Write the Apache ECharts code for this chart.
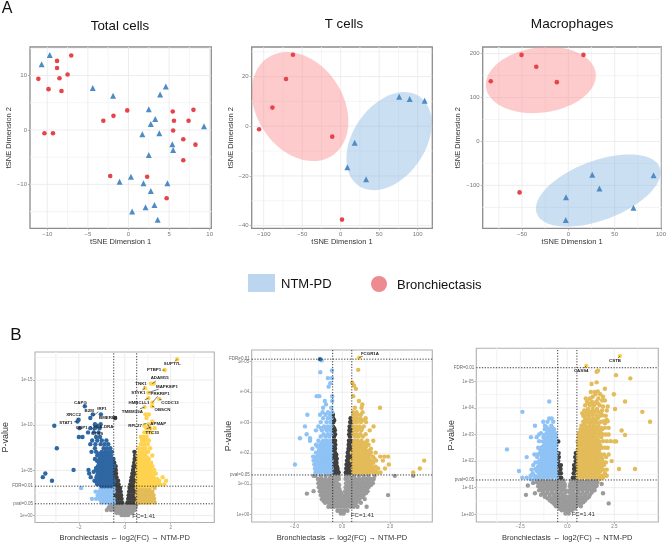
<!DOCTYPE html>
<html><head><meta charset="utf-8">
<script src="https://cdn.jsdelivr.net/npm/echarts@6/dist/echarts.min.js"></script>
<style>html,body{margin:0;padding:0;background:#fff}#c{width:669px;height:543px}</style></head>
<body><div id="c"></div>
<script>
const FONT='"Liberation Sans",Arial,sans-serif';
// ---- Panel A data
const totalTri=[[-9.7,13.8],[-10.7,12.1],[-4.4,7.7],[-1.9,6.3],[4.6,8],[3.9,6.5],[2.5,3.8],[3.3,2],[2.75,1.1],[1.7,-.8],[3.8,-.6],[9.3,.7],[5.4,-2.6],[5.5,-3.7],[2.5,-4.6],[-1.1,-9.5],[.3,-8.6],[1.85,-9.8],[4.8,-9.8],[2.75,-11.2],[3.2,-13.8],[2.1,-14.2],[.45,-15],[3.6,-16.5]];
const totalCir=[[-7.05,13.7],[-8.8,12.7],[-8.8,11.4],[-7.5,10.2],[-11.1,9.4],[-8.5,9.5],[-9.85,7.5],[-8.25,7.15],[-10.35,-.6],[-9.3,-.6],[-3.1,1.7],[-1.85,2.6],[-.15,3.6],[5.45,3.4],[8,3.7],[5.6,1.7],[7.4,1.7],[5.5,-.1],[6.75,-1.7],[8.25,-2.7],[6.75,-5.55],[-2.25,-8.45],[2.3,-8.6],[4.7,-12.55]];
const tcellCir=[[-62,28.8],[-71,19],[-88.7,7.5],[-106,-1.2],[-11,-4.2],[1.7,-37.6]];
const tcellTri=[[76,11.9],[89.6,11],[109,10.3],[18.2,-6.7],[8.7,-16.5],[33,-21.3]];
const macroCir=[[-50.5,197],[16.3,197],[-34.6,170],[-83.7,137],[-12.4,135],[-52.6,-116]];
const macroTri=[[25.8,-76],[33.6,-107],[92,-77],[-2.5,-127],[70.3,-151],[-2.8,-179]];
// ellipses: cx, cy, half-x, half-y, correlation
const tcellEllRed=[-52.8,7.9,62.8,21.95,-.27], tcellEllBlue=[62.8,-6,55.4,19.75,.36];
const macroEllRed=[-29.7,139.8,59.4,75.4,.14], macroEllBlue=[32.3,-111.7,67.3,82.2,.5];
// ---- Panel B data: rows of [minusLog10P, x, x, ...]
const b1Rows=[
[.05,-.14,-.04,.06,.15],[.3,-.36,-.26,-.16,-.07,.03,.12,.22,.33],[.6,-.78,-.6,-.43,-.32,-.2,-.1,0,.1,.2,.3,.42],[.9,-.7,-.55,-.42,-.3,-.18,-.06,.04,.14,.25,.36,.46],[1.2,-.62,-.48,-.36,-.24,-.13,-.05,.07,.16,.27,.38,.5],
[1.45,-.48,-.36,-.24,-.12,.12,.24,.36,.47,-.56,-.7,-.84,-1,.54,.68,.82,.96,1.1,1.3],
[1.85,-.49,-.37,-.25,-.14,.15,.26,.37,.48,-.54,-.68,-.82,-.96,-1.1,-1.25,-1.43,.57,.71,.85,.99,1.13,1.28],
[2.25,-.47,-.35,-.24,-.16,.17,.27,.38,.49,-.58,-.72,-.87,-1.02,-1.18,.53,.67,.81,.95,1.1,1.25],
[2.65,-.48,-.37,-.26,-.18,.19,.29,.4,.48,-.55,-.69,-.83,-.97,-1.12,-1.27,.56,.7,.84,.98,1.12,1.2],
[3.05,-.49,-.38,-.28,-.2,.21,.31,.41,.47,-.6,-.75,-.9,-1.05,-1.9,.52,.66,.8,.94,1.08,1.3],
[3.45,-.46,-.36,-.27,.24,.34,.45,-.53,-.67,-.81,-.95,-1.1,-1.2,.53,.66,.8,.94,1.08,1.25,1.4,1.55,1.72],
[3.85,-.48,-.37,-.29,.27,.37,.46,-.56,-.7,-.85,-1,-1.15,-1.32,-3.17,.56,.7,.84,.98,1.13,1.3,1.5,1.8],
[4.25,-.46,-.36,.3,.39,.48,-.53,-.66,-.8,-.94,-1.09,-1.23,-1.48,-3.57,.53,.67,.81,.96,1.1,1.25,1.65],
[4.65,-.47,-.38,.33,.42,.47,-.57,-.71,-.86,-1,-1.14,-1.55,-3.46,.57,.71,.85,1,1.15,1.35],
[5.05,-.46,-.39,.36,.44,-.54,-.68,-.82,-.96,-1.1,-1.25,-1.58,-2.23,.54,.68,.83,.97,1.12,1.28],
[5.45,-.48,-.4,.38,.47,-.58,-.72,-.86,-1.02,-1.17,.58,.72,.87,1.02,1.2],
[5.85,-.46,.41,.48,-.55,-.69,-.83,-.98,-1.13,.55,.69,.84,1,1.15],
[6.25,-.49,.43,-.52,-.66,-.8,-.94,-1.1,-1.3,.6,.75,.9,1.05],
[6.65,.45,-.6,-.74,-.88,-1.04,-1.2,.56,.72,.88,1.2],
[7.05,.42,-.56,-.71,-.85,-1,-1.25,-1.45,.65,.8,.95,1.02],
[7.45,-.63,-.78,-.92,-1.3,-2.96,.62,.78,.9,1.1],
[7.9,-.72,-.88,-1.05,-1.28,-1.5,.7,.85,1],[8.3,-.8,-1,-1.2,-1.42,.75,.88,1.05],[8.7,-1.08,-1.25,-1.84,-2,.82,.95,.7],
[9.2,-1.14,-1.35,-1.6,.85,1,1.15],[9.67,-1.1,-1.3,-1.5,-1.97,.95,1.1,1.3],[9.93,-3.07,-1.18,.85],[10.1,-1.3,-1.05,1.05],[10.4,-2.06,1.2],[10.6,-2.01],[10.8,-1.5,-.42,.95],[11.2,-1.39,-1.04,.9,1.05],[12,.86],[12.1,-1.74,1.19],[12.5,1.2],[12.9,1.5],[13,1.03],[13.6,1.03],[14.1,.88],[14.6,1.26,1.14],[16.1,1.74],[17.3,2.28]];
const b1Fill=[[1.65,-.62,-.76,-.9,-1.04,.6,.75,.9,1.05,1.2],[2.05,-.6,-.75,-.9,-1.05,.62,.76,.9,1.05,1.2],[2.45,-.62,-.78,-.93,-1.08,.6,.74,.88,1.04,1.18],[2.85,-.62,-.76,-.9,-1.05,.62,.76,.9,1.04],[3.25,-.6,-.74,-.88,-1,.6,.73,.87,1.01,1.16],[3.65,-.6,-.74,-.88,-1.05,-1.22,.6,.77,.91,1.05,1.2,1.4],[4.05,-.6,-.73,-.87,-1.02,-1.2,.6,.74,.88,1.04,1.2,1.4],[4.45,-.62,-.76,-.9,-1.05,-1.2,.6,.78,.92,1.07,1.2],[4.85,-.6,-.75,-.89,-1.03,-1.18,-1.35,.6,.75,.9,1.05,1.2],[5.25,-.62,-.78,-.92,-1.08,-1.25,.62,.78,.92,1.1],[5.65,-.62,-.76,-.92,-1.06,.62,.78,.92,1.08],[6.05,-.6,-.74,-.88,-1.04,-1.2,.65,.82,.98],[6.45,-.7,-.86,-1,.68,.82,.96],[6.85,-.68,-.8,-.95,-1.12,.72,.88]];
const b2Rows=[
[.03,-.06,.06],[.12,-.2,-.1,0,.1,.22],[.25,-.58,-.46,-.34,-.2,-.06,.08,.2,.34,.48,.64,1.02],
[.38,-.72,-.58,-.44,-.3,-.14,.02,.16,.32,.46,.6,.78],[.5,-.86,-.7,-.54,-.38,-.22,-.08,.08,.24,.4,.56,.72,.94],
[.63,-.9,-.74,-.58,-.42,-.26,-.1,.1,.26,.42,.58,.74,.9,1.92],[.68,-1.48],[.76,-1.2,-.94,-.76,-.6,-.44,-.28,-.1,.12,.28,.44,.6,.76,.92,1.06],
[.89,-.98,-.82,-.66,-.5,-.34,-.18,.14,.3,.46,.62,.78,.94,1.1],[1.02,-1,-.84,-.68,-.52,-.36,-.2,.16,.32,.48,.64,.8,.96,1.14,1.28],[1.16,-1.02,-.86,-.7,-.54,-.38,-.22,-.14,.14,.22,.38,.54,.7,.86,1.02,1.18,1.32],[1.26,-1.2,-1.12,-.9,-.7,-.5,-.3,-.15,.16,.3,.5,.7,.9,1.1,1.35,2.2,2.97],
[1.37,-.35,-.25,-.15,.15,.25,.36,-.46,-.6,-.74,-.9,-1.06,-1.12,.46,.6,.74,.88,1.02,1.16,1.32,1.45,1.6,2.97],
[1.5,-.38,-.28,-.2,.17,.27,.38,-.44,-.58,-.72,-.86,-1,-1.14,.44,.58,.72,.86,1,1.14,1.26,1.5,1.79,3.25],
[1.63,-.36,-.26,.18,.28,.39,-.47,-.62,-.76,-.9,-1.04,-1.17,-1.98,.47,.61,.75,.89,1.03,1.17,1.95],
[1.76,-.39,-.28,.2,.3,.4,-.45,-.59,-.73,-.87,-1.01,-1.2,.45,.59,.73,.87,1.01,1.2,1.42,1.7,3.43],
[1.89,-.37,-.27,.22,.31,.38,-.48,-.62,-.76,-.9,-1.06,-1.22,.48,.62,.76,.9,1.06,1.28,1.59,1.76,1.92],
[2.02,-.39,-.3,.23,.33,.4,-.46,-.6,-.75,-.9,-1.1,.46,.6,.74,.88,1.02,1.2,1.4],
[2.15,-.37,-.3,.26,.35,-.48,-.63,-.78,-.95,-1.25,.48,.62,.78,.95,1.2],
[2.28,-.38,-.29,.27,.36,-.46,-.6,-.76,-.92,-1.1,.46,.6,.74,.9,1.1],
[2.41,-.39,-.3,.28,.37,-.5,-.65,-.8,-1,-1.35,.5,.64,.8,1.05,1.3],[2.49,-1.35,-1.77],[2.62,-.38,-.3,.29,.36,-.46,-.6,-.78,-1.49,.46,.6,.76,.98],[2.75,-.38,-.31,.3,.37,-.5,-.65,-.85,-1.1,.5,.64,.8,1.15],
[2.88,-.39,.31,.38,-.46,-.6,-.76,-1,-1.56,.46,.58,.72,.9,1.31],[3.02,-.37,.33,.38,-.5,-.66,-.9,.5,.62,.78,1],[3.15,-.38,.35,-.46,-.6,-.8,.48,.6,.75,.98],[3.26,-.39,-.52,-.7,-.93,-1.46,.5,.62,.78],[3.34,-.42,-.6,-.82,.45,.6,.85],
[3.49,-.46,-.8,.81,1.58,.53],[3.6,-.68,.84],[3.71,-.73,-.42,.7],[3.87,-.42,-.96,-1.07,.46],[4.11,.57],[4.18,-.57],[4.22,.49],[4.29,-.5],[4.31,.42],[4.46,-.6,-.43],[4.65,-.92],[4.71,-.43],[4.73,.67],[5.04,-.86],[5.08,-.93],[5.13,.7]];
const b2Fill=[[.31,-.52,-.38,-.26,-.12,0,.14,.26,.4,.54],[.44,-.78,-.64,-.5,-.36,-.22,-.08,0,.16,.32,.48,.64],[.57,-.8,-.66,-.5,-.34,-.18,-.02,.18,.34,.5,.66,.82],[.7,-.86,-.68,-.52,-.36,-.2,-.04,.2,.36,.52,.68,.84,1],[.83,-.9,-.74,-.58,-.42,-.26,-.12,.22,.38,.54,.7,.86,1.02],[.96,-.92,-.76,-.6,-.44,-.28,-.13,.24,.4,.56,.72,.88,1.04,1.2],[1.09,-.94,-.78,-.62,-.46,-.3,.24,.4,.56,.72,.88,1.08,1.26],
[1.43,-.3,-.2,.22,.32,-.53,-.67,-.81,-.95,-1.1,.53,.67,.81,.95,1.09,1.22,1.38],[1.56,-.31,-.22,.23,.33,-.52,-.66,-.8,-.94,-1.08,.52,.66,.8,.94,1.08,1.24,1.4],[1.69,-.32,-.24,.24,.34,-.54,-.69,-.83,-.97,-1.1,.54,.68,.82,.96,1.1,1.3],[1.82,-.33,-.23,.25,.35,-.52,-.66,-.8,-.95,-1.12,.52,.66,.8,.95,1.12,1.35],[1.95,-.33,-.25,.27,.35,-.53,-.68,-.83,-.98,.53,.67,.81,.97,1.14],[2.08,-.34,.28,.36,-.52,-.67,-.82,-.98,.53,.68,.82,.98,1.1],[2.22,-.34,.3,-.54,-.7,-.86,-1.04,.54,.7,.86,1],[2.35,-.34,.31,-.53,-.68,-.85,.53,.68,.84,.98],[2.55,-.34,.32,-.54,-.7,-.9,.54,.68,.86],[2.82,-.34,.33,-.53,-.68,-.88,.54,.68,.82],[3.08,-.34,.54,.68,.86]];
const b3Rows=[
[.03,-.1,.08],[.15,-.3,-.12,.05,.24],[.3,-.6,-.42,-.24,-.06,.12,.3,.48,.72],[.41,2.2],[.45,-.8,-.6,-.4,-.2,0,.2,.4,.6,.85],[.6,-1.05,-.82,-.6,-.38,-.16,.16,.38,.6,.82,1.05],[.73,-2.2,-1.4,-1.18,-.94,-.7,-.46,-.22,.22,.46,.7,.94,1.2],[.79,1.9,-1.72],[.9,-1.5,-1.27,-1.04,-.8,-.56,-.3,-.1,.1,.3,.56,.8,1.04,1.27,1.45],[1.05,-1.55,-1.32,-1.08,-.84,-.6,-.36,-.14,.14,.36,.6,.84,1.08,1.32,1.52],[1.08,-2.1,1.56],[1.14,1.83],[1.2,-1.62,-1.38,-1.14,-.9,-.66,-.42,-.2,.2,.42,.66,.9,1.14,1.38,1.6],
[1.38,-.44,-.33,.3,.4,-.56,-.78,-1,-1.22,-1.44,-1.66,-2.16,-2.39,.56,.78,1,1.22,1.44,1.66,1.9],
[1.54,-.46,-.34,.34,.44,-.6,-.82,-1.04,-1.26,-1.48,-1.84,.55,.76,.98,1.2,1.42,1.62,2],
[1.63,-2.57],[1.7,-.45,-.36,.36,.46,-.57,-.79,-1,-1.22,-1.44,-1.7,.58,.8,1.02,1.24,1.46,1.7,2.75,3.6],
[1.85,-.46,-.34,.36,.45,-.6,-.82,-1.04,-1.26,-1.48,-1.81,.55,.77,.99,1.21,1.43,1.65,1.95],
[2,-.48,.44,-.58,-.8,-1.02,-1.24,-1.5,.58,.8,1.02,1.24,1.46,1.68,2.36],
[2.15,-.45,.42,-.6,-.82,-1.04,-1.26,-1.6,-2.16,.56,.78,1,1.22,1.44,1.7,2.06],
[2.3,-.46,.45,-.57,-.79,-1.02,-1.24,-1.46,.58,.8,1.02,1.24,1.46,1.72],
[2.44,-.6,-.82,-1.04,-1.26,-1.44,-3.21,.55,.77,.99,1.21,1.43,1.7],
[2.6,-.58,-.8,-1.02,-1.24,.58,.8,1.02,1.24,1.46,1.75],[2.74,-.48,-.62,-.84,-1.06,-1.3,.55,.77,.99,1.21,1.43,1.7,2.5,2.6],
[2.9,-.6,-.82,-1.04,-1.27,-1.63,-1.93,.6,.82,1.04,1.26,1.48,1.8],[2.98,3.07],[3.05,-.64,-.86,-1.1,-1.4,.62,.84,1.06,1.28,1.5,1.8],[3.15,2.89],[3.2,-.7,-.95,-1.2,.7,.92,1.14,1.36,1.58,1.85],[3.33,-1.72,-1.19,-.85,.75,.98,1.2,1.42,1.65],[3.48,-1.28,-.75,-1.05,.85,1.08,1.3,1.52,1.8,4.4],[3.6,-.96,-.83,.95,1.17,1.4,1.62],[3.72,.9,1.1,1.32,1.55,1.9],[3.85,-2.39,3.99,1,1.22,1.45,1.65],[3.96,1.1,1.35,1.58,2.54],[4.1,.95,1.2,1.42,1.72],[4.24,-.96,1.05,1.3,1.55,3.07],[4.35,.98,1.2,1.65],[4.51,1.5,1.75,2.48],[4.62,1.62],[4.72,2],[4.9,1.29],[4.96,1.56],[5.11,3.35],[5.23,2.59],[5.36,1.56],[5.4,1.63],[5.58,1.01],[5.95,2.8]];
const b3Fill=[[.22,-.4,-.2,0,.2,.4],[.38,-.68,-.5,-.3,-.1,.1,.3,.52,.7],[.52,-.92,-.7,-.5,-.28,-.06,.08,.28,.5,.7,.94],[.66,-1.2,-.94,-.7,-.5,-.28,-.06,.1,.3,.5,.72,.94,1.15],[.82,-1.3,-1.06,-.82,-.58,-.34,-.1,.12,.34,.58,.82,1.06,1.3],[.98,-1.42,-1.18,-.94,-.7,-.46,-.22,.22,.46,.7,.94,1.18,1.42],[1.13,-1.5,-1.26,-1.02,-.78,-.54,-.3,-.14,.16,.3,.54,.78,1.02,1.26,1.5],[1.27,-1.55,-1.3,-1.05,-.8,-.55,-.3,-.2,.2,.3,.55,.8,1.05,1.3,1.55],
[1.46,-.67,-.89,-1.11,-1.33,-1.55,.67,.89,1.11,1.33,1.55,1.78],[1.62,-.7,-.92,-1.14,-1.36,-1.6,.65,.87,1.09,1.31,1.53,1.76],[1.78,-.68,-.9,-1.12,-1.34,-1.56,.69,.91,1.13,1.35,1.57,1.82],[1.92,-.7,-.91,-1.13,-1.35,.67,.89,1.11,1.33,1.55,1.8],[2.08,-.69,-.91,-1.13,-1.38,.67,.89,1.11,1.33,1.57,1.85],[2.22,-.7,-.93,-1.15,-1.38,.68,.9,1.12,1.34,1.58,1.82],[2.37,-.69,-.92,-1.14,-1.36,.66,.88,1.1,1.32,1.58],[2.52,-.7,-.92,-1.14,-1.35,.68,.9,1.12,1.34,1.6],[2.67,-.7,-.93,-1.16,.66,.88,1.1,1.33,1.58],[2.82,-.72,-.94,-1.16,.7,.92,1.15,1.38,1.6],[2.98,-.72,-.96,-1.22,.72,.94,1.16,1.4,1.66],[3.12,-.78,-1.02,.75,.97,1.2,1.44,1.7],[3.27,-.82,-1.1,.84,1.08,1.3,1.54],[3.42,.9,1.2,1.42,1.66,2],[3.55,1.05,1.3,1.5,2.1],[3.8,.8,1.1,1.35,1.78],[4.17,1.12,1.38,1.62],
[1.18,-1.82],[1.32,-1.75,-1.95,1.72],[1.45,-1.75,-1.95,1.95,2.1],[1.68,-1.9,-1.65,1.9,2.1],[1.95,-1.7,-1.55,1.92,2.05],[2.25,-1.75,-1.58,1.95,2.2],[2.5,-1.55,1.82,2,2.15],[2.75,-1.5,1.9,2.1,2.3],[3,-1.5,1.9,2.05,2.2],[3.25,1.8,2,2.2],[3.5,1.95,2.15,.95],[3.7,1.75,2.05,.85],[3.9,1.85,2.1,.9],[4.05,1.9,2.15],[4.28,1.85,2],[4.42,1.35,1.9],[4.6,1.25,1.45]];
// Thresholds on -log10(P) and FC lines
const b1Fc=[-.48,.52], b1Pval=1.3, b1Fdr=3.25;
const b2Fc=[-.4,.4], b2Pval=1.29, b2Fdr=5.08;
const b3Fc=[-.51,.51], b3Pval=1.29, b3Fdr=5.51;
// Tick labels
const b1YTicks=[0,5,10,15], b1YLabels=['1e+00','1e-05','1e-10','1e-15'];
const b2YTicks=[0,1,2,3,4,5], b2YLabels=['1e+00','1e-01','e-02','e-03','e-04','1e-05'];
const b3YTicks=[0,1,2,3,4,5], b3YLabels=['1e+00','1e-01','1e-02','1e-03','1e-04','1e-05'];
// gene, label x, label y, point x, point y
const b1Genes=[['SUPT7L',2.07,16.75,2.28,17.3],['PTBP1',1.28,16.1,1.74,16.1],['ADAM15',1.52,15.2,1.2,14.6],['TNK1',.71,14.6,.88,14.2],['MAPK8IP1',1.84,14.3,1.03,13.6],['STYK1',.59,13.6,.88,14.1],['PRKRIP1',1.54,13.5,1.2,12.5],['CCDC13',1.97,12.5,1.5,12.9],['HMBCLL1',.62,12.5,1.03,13],['OBSCN',1.64,11.7,1.19,12.1],['TMEM39A',.33,11.5,.86,12],['RPL27',.45,9.9,.95,10.2],['APMAP',1.46,10.1,.95,9.6],['TTC33',1.2,9.2,1,10.1],['CAPG',-1.93,12.5,-1.74,12.1],['B2M',-1.55,11.6,-1.39,11.2],['IRF1',-.99,11.8,-1.39,11],['BMERB1',-.72,10.8,-.42,10.8],['XRCC2',-2.23,11.1,-2.01,10.6],['STAT1',-2.57,10.3,-2.06,10.4],['GBP1',-1.88,9.67,-1.97,9.67],['HLA-DRA',-.93,9.85,-1.3,10.1],['CTSS',-1.2,9,-1.5,9.9]];
const b2Genes=[['FCGR1A',1.16,5.27,.7,5.13]];
const b3Genes=[['CSTB',2.54,5.78,2.8,5.95],['CASS4',.74,5.4,1.01,5.58]];

// ---- helpers
const flat=r=>{const o=[];r.forEach(w=>{for(let i=1;i<w.length;i++)o.push([w[i],w[0]])});return o};
function ellipse(api,e,fill){const pts=[];for(let i=0;i<72;i++){const t=i/72*2*Math.PI;
  pts.push(api.coord([e[0]+e[2]*Math.cos(t),e[1]+e[3]*(e[4]*Math.cos(t)-Math.sqrt(1-e[4]*e[4])*Math.sin(t))]));}
  return {type:'polygon',shape:{points:pts},style:{fill:fill}};}
function minors(t){const s=t[1]-t[0];return t.concat([t[0]-s,t[t.length-1]+s]).map(v=>v+s/2).concat([t[0]-s/2]);}
function gridSeries(i,xt,yt,xr,yr,mj,mn,ells){return {type:'custom',xAxisIndex:i,yAxisIndex:i,z:1,silent:true,data:[0],clip:false,animation:false,
  renderItem(p,api){const ch=[];
    const ln=(a,b,c)=>({type:'line',shape:{x1:a[0],y1:a[1],x2:b[0],y2:b[1]},style:{stroke:c,lineWidth:.8}});
    minors(xt).forEach(v=>{if(v>xr[0]&&v<xr[1])ch.push(ln(api.coord([v,yr[0]]),api.coord([v,yr[1]]),mn))});
    minors(yt).forEach(v=>{if(v>yr[0]&&v<yr[1])ch.push(ln(api.coord([xr[0],v]),api.coord([xr[1],v]),mn))});
    xt.forEach(v=>ch.push(ln(api.coord([v,yr[0]]),api.coord([v,yr[1]]),mj)));
    yt.forEach(v=>ch.push(ln(api.coord([xr[0],v]),api.coord([xr[1],v]),mj)));
    (ells||[]).forEach(e=>ch.push(ellipse(api,e[0],e[1])));
    return {type:'group',children:ch};}};}
const grids=[],xAxes=[],yAxes=[],series=[];
function addPanel(o){const i=grids.length;
  grids.push({left:o.box[0],top:o.box[1],width:o.box[2]-o.box[0],height:o.box[3]-o.box[1],show:true,backgroundColor:'#fff',borderColor:o.border,borderWidth:o.bw,containLabel:false});
  const lab=(fs,col)=>({show:true,fontSize:fs,color:col,fontFamily:FONT,margin:o.lm,hideOverlap:false});
  xAxes.push({gridIndex:i,type:'value',min:o.xr[0],max:o.xr[1],position:'bottom',name:o.xName,nameLocation:'middle',nameGap:o.xGap,
    nameTextStyle:{fontSize:o.nameFs,color:'#333',fontFamily:FONT},splitLine:{show:false},axisLine:{show:false,onZero:false},
    axisTick:{show:true,length:2,lineStyle:{color:'#888',width:.6},customValues:o.xt},
    axisLabel:Object.assign(lab(o.tickFs,'#777'),{customValues:o.xt,formatter:o.xf||(v=>String(v).replace('-','\u2212'))})});
  yAxes.push({gridIndex:i,type:'value',min:o.yr[0],max:o.yr[1],position:'left',name:o.yName,nameLocation:'middle',nameGap:o.yGap,
    nameTextStyle:{fontSize:o.yNameFs||o.nameFs,color:'#333',fontFamily:FONT},splitLine:{show:false},axisLine:{show:false,onZero:false},
    axisTick:{show:true,length:2,lineStyle:{color:'#888',width:.6},customValues:o.yt},
    axisLabel:Object.assign(lab(o.tickFs,'#777'),{customValues:o.yt,formatter:o.yf||(v=>String(v).replace('-','\u2212'))})});
  series.push(gridSeries(i,o.xt,o.yt,o.xr,o.yr,'#e9e9e9','#f3f3f3',o.ells));
  return i;}
function scat(i,data,sym,size,color,z){series.push({type:'scatter',xAxisIndex:i,yAxisIndex:i,data:data,symbol:sym,symbolSize:size,itemStyle:{color:color,opacity:1},z:z||3,silent:true,animation:false,clip:false,large:false});}
// Panel A
const aOpts={border:'#8c8c8c',bw:1.3,lm:3,tickFs:6,nameFs:7.5,xGap:10,yGap:14,xName:'tSNE Dimension 1',yName:'tSNE Dimension 2'};
const RED='rgba(250,140,140,.45)',BLUE='rgba(130,178,225,.42)';
let k=addPanel(Object.assign({},aOpts,{box:[30,47,211.3,228.3],xr:[-12.13,10.2],yr:[-18.07,15.25],xt:[-10,-5,0,5,10],yt:[-10,0,10]}));
scat(k,totalTri,'triangle',6,'#4f8cc4');scat(k,totalCir,'circle',4.6,'#e6444a');
k=addPanel(Object.assign({},aOpts,{box:[251.7,47,432.3,228.3],xr:[-115.6,119],yr:[-41.1,31.9],xt:[-100,-50,0,50,100],yt:[-40,-20,0,20],yGap:11,ells:[[tcellEllRed,RED],[tcellEllBlue,BLUE]]}));
scat(k,tcellTri,'triangle',6,'#4f8cc4');scat(k,tcellCir,'circle',4.6,'#e6444a');
k=addPanel(Object.assign({},aOpts,{box:[482.7,47,664.7,228.3],xr:[-92.4,100.4],yr:[-197.7,215],xt:[-50,0,50,100],yt:[-100,0,100,200],yGap:16,ells:[[macroEllRed,RED],[macroEllBlue,BLUE]]}));
scat(k,macroTri,'triangle',6,'#4f8cc4');scat(k,macroCir,'circle',4.6,'#e6444a');
// Panel B
function volcano(o){
  const yl={};o.yt.forEach((v,j)=>yl[v]=o.yl[j]);
  const i=addPanel({box:o.box,xr:o.xr,yr:o.yr,xt:o.xt,yt:o.yt,border:'#b0b0b0',bw:1.1,lm:2.5,tickFs:4.5,nameFs:7.5,yNameFs:9,xGap:11.5,yGap:o.yGap,
    xName:'Bronchiectasis \u2190 log2(FC) \u2192 NTM-PD',yName:'P-value',xf:o.xf,yf:v=>yl[v]||''});
  const pts=flat(o.rows.concat(o.fill)),cls={gray:[],dark:[],lb:[],db:[],gold:[],yel:[]};
  pts.forEach(p=>{const[x,y]=p;
    if(y<o.pval)cls.gray.push(p);
    else if(x>o.fc[0]&&x<o.fc[1])cls.dark.push(p);
    else if(y<o.fdr)(x<0?cls.lb:cls.gold).push(p);
    else (x<0?cls.db:cls.yel).push(p);});
  scat(i,cls.gray,'circle',o.sz,'#9b9b9b',2);scat(i,cls.dark,'circle',o.sz,'#404040',3);
  scat(i,cls.lb,'circle',o.sz,'#8fc2f5',3);scat(i,cls.gold,'circle',o.sz,'#e3bb58',3);
  scat(i,cls.db,'circle',o.sz,'#2f67a3',3);scat(i,cls.yel,'circle',o.sz,'#ffd24f',3);
  series.push({type:'custom',xAxisIndex:i,yAxisIndex:i,z:6,silent:true,data:[0],clip:false,animation:false,renderItem(p,api){const ch=[];
    const dash=(a,b)=>({type:'line',shape:{x1:a[0],y1:a[1],x2:b[0],y2:b[1]},style:{stroke:'#222',lineWidth:.9,lineDash:[1.2,1.6]}});
    o.fc.forEach(v=>ch.push(dash(api.coord([v,o.yr[0]]),api.coord([v,o.yr[1]]))));
    [o.pval,o.fdr].forEach(v=>ch.push(dash(api.coord([o.xr[0],v]),api.coord([o.xr[1],v]))));
    const tx=(s,q,a,fs,c,w)=>({type:'text',style:{text:s,x:q[0],y:q[1],align:a,verticalAlign:'middle',fill:c,font:(w||'normal')+' '+fs+'px '+FONT}});
    ch.push(tx('pval=0.05',[api.coord([o.xr[0],o.pval])[0]-2,api.coord([0,o.pval])[1]],'right',4.5,'#666'));
    ch.push(tx('FDR=0.01',[api.coord([o.xr[0],o.fdr])[0]-2,api.coord([0,o.fdr])[1]],'right',4.5,'#666'));
    ch.push(tx('FC=1.41',api.coord(o.fcLabel),'center',6,'#333'));
    o.genes.forEach(g=>{const a=api.coord([g[1],g[2]]),b=api.coord([g[3],g[4]]);const w=g[0].length*1.55+.5,h=2.8;
      const dx=b[0]-a[0],dy=b[1]-a[1];const s=Math.min(Math.abs(dx)>1e-6?w/Math.abs(dx):9,Math.abs(dy)>1e-6?h/Math.abs(dy):9);
      if(s<1)ch.push({type:'line',shape:{x1:a[0]+dx*s,y1:a[1]+dy*s,x2:b[0],y2:b[1]},style:{stroke:'#222',lineWidth:.6}});
      ch.push(tx(g[0],a,'center',4.4,'#222','bold'));});
    return {type:'group',children:ch};}});
}
volcano({box:[34.7,352,214.3,522.7],xr:[-3.91,3.9],yr:[-.77,18.1],xt:[-2,0,2],yt:b1YTicks,yl:b1YLabels,rows:b1Rows,fill:b1Fill,fc:b1Fc,pval:b1Pval,fdr:b1Fdr,genes:b1Genes,fcLabel:[.83,-.05],sz:4.4,yGap:25});
volcano({box:[251.7,350,432.3,522],xr:[-3.79,3.77],yr:[-.25,5.38],xt:[-2,0,2],xf:v=>v.toFixed(1).replace('-','\u2212'),yt:b2YTicks,yl:b2YLabels,rows:b2Rows,fill:b2Fill,fc:b2Fc,pval:b2Pval,fdr:b2Fdr,genes:b2Genes,fcLabel:[.85,-.02],sz:4.4,yGap:17});
volcano({box:[476.3,348.3,658.3,522],xr:[-4.84,4.84],yr:[-.29,6.24],xt:[-2.5,0,2.5],xf:v=>v.toFixed(1).replace('-','\u2212'),yt:b3YTicks,yl:b3YLabels,rows:b3Rows,fill:b3Fill,fc:b3Fc,pval:b3Pval,fdr:b3Fdr,genes:b3Genes,fcLabel:[.85,-.01],sz:4.4,yGap:20});
const gt=(s,x,y,fs,al)=>({type:'text',silent:true,style:{text:s,x:x,y:y,fill:'#111',font:fs+'px '+FONT,align:al||'center',verticalAlign:'middle'}});
const chart=echarts.init(document.getElementById('c'),null,{renderer:'canvas'});
chart.setOption({animation:false,backgroundColor:'#fff',textStyle:{fontFamily:FONT},grid:grids,xAxis:xAxes,yAxis:yAxes,series:series,
  graphic:[gt('A',7,9,16),gt('B',16,335,17),gt('Total cells',120,26,13.3),gt('T cells',344,24,13.3),gt('Macrophages',572,24,13.6),
   {type:'rect',silent:true,shape:{x:248,y:274,width:27,height:18},style:{fill:'#bcd6f0'}},gt('NTM-PD',281,284,13,'left'),
   {type:'circle',silent:true,shape:{cx:379,cy:284,r:8},style:{fill:'#ee8b90'}},gt('Bronchiectasis',397,285,13,'left')]});
</script></body></html>
